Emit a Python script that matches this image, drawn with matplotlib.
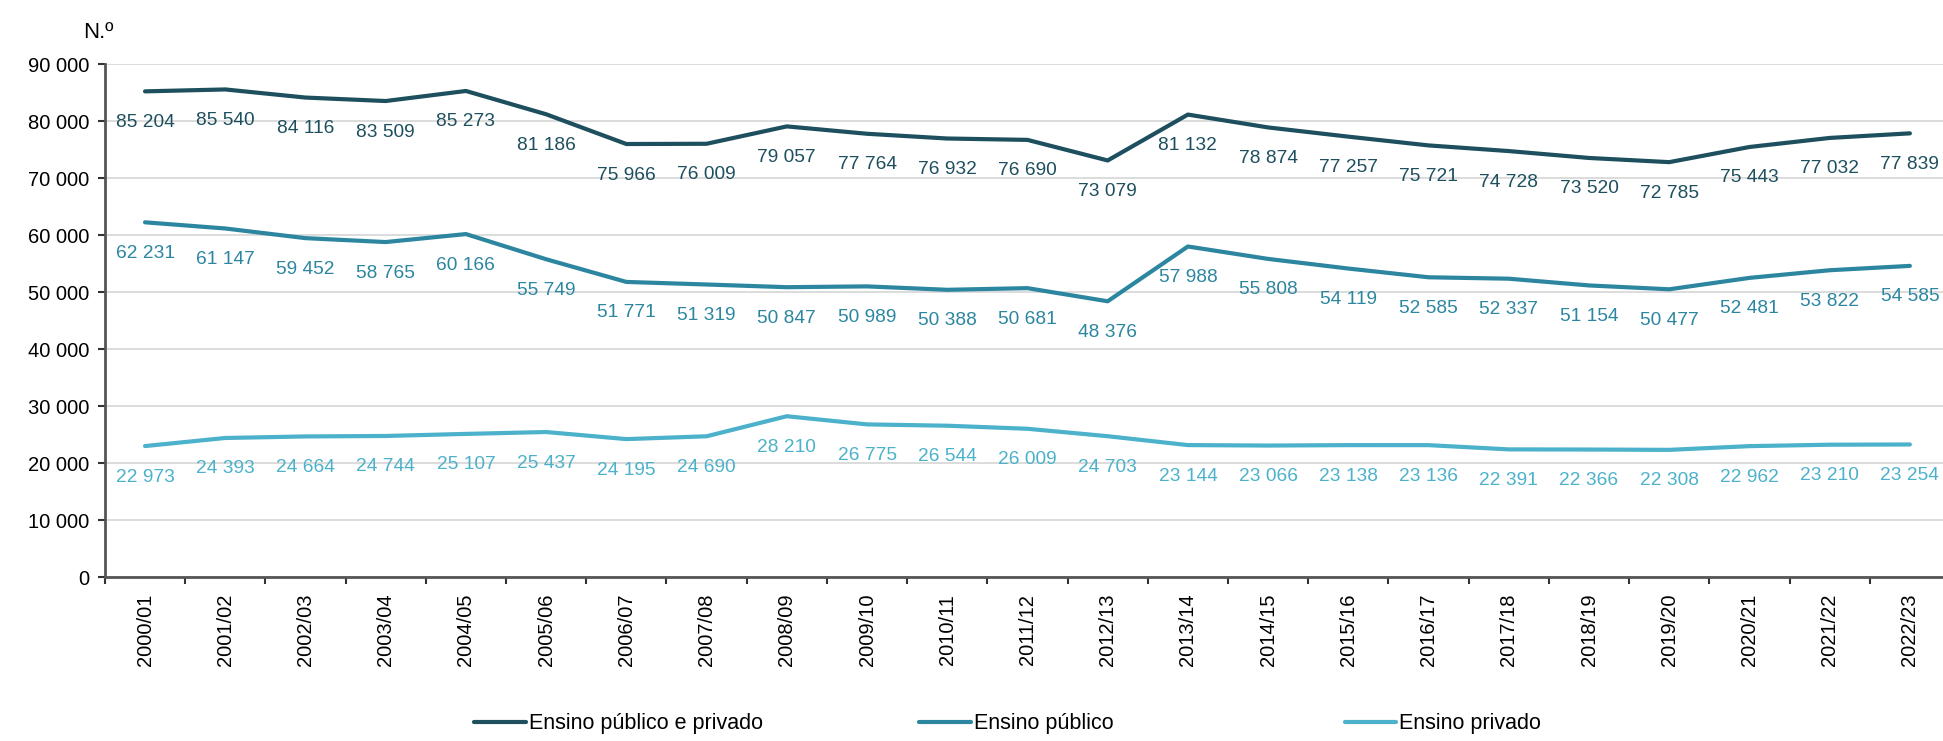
import matplotlib.pyplot as plt
from matplotlib.ticker import FuncFormatter, FixedLocator

plt.rcParams['font.family'] = ['Liberation Sans', 'DejaVu Sans']

# school years
years = ['2000/01', '2001/02', '2002/03', '2003/04', '2004/05', '2005/06', '2006/07',
         '2007/08', '2008/09', '2009/10', '2010/11', '2011/12', '2012/13', '2013/14',
         '2014/15', '2015/16', '2016/17', '2017/18', '2018/19', '2019/20', '2020/21',
         '2021/22', '2022/23']

total = [85204, 85540, 84116, 83509, 85273, 81186, 75966, 76009, 79057, 77764, 76932,
         76690, 73079, 81132, 78874, 77257, 75721, 74728, 73520, 72785, 75443, 77032, 77839]
publico = [62231, 61147, 59452, 58765, 60166, 55749, 51771, 51319, 50847, 50989, 50388,
           50681, 48376, 57988, 55808, 54119, 52585, 52337, 51154, 50477, 52481, 53822, 54585]
privado = [22973, 24393, 24664, 24744, 25107, 25437, 24195, 24690, 28210, 26775, 26544,
           26009, 24703, 23144, 23066, 23138, 23136, 22391, 22366, 22308, 22962, 23210, 23254]

series = [('Ensino público e privado', total, '#1d4f5e'),
          ('Ensino público', publico, '#2c86a0'),
          ('Ensino privado', privado, '#4cb1ca')]


def fmt(v):
    return f'{int(v):,}'.replace(',', ' ')


fig = plt.figure(figsize=(19.43, 7.41), dpi=100)
ax = fig.add_axes([0.054, 0.2213, 0.9496, 0.6923])

x = list(range(len(years)))
lines = []
for name, vals, col in series:
    ln, = ax.plot(x, vals, color=col, lw=3, label=name, solid_capstyle='round')
    lines.append(ln)
    for xi, v in zip(x, vals):
        ax.annotate(fmt(v), (xi, v), xytext=(0, -31), textcoords='offset pixels',
                    ha='center', va='center', fontsize=13.8, color=col)

ax.set_xlim(-0.5, len(years) - 0.5)
ax.set_ylim(0, 90000)
ax.set_yticks(range(0, 90001, 10000))
ax.yaxis.set_major_formatter(FuncFormatter(lambda v, p: fmt(v)))
ax.tick_params(axis='y', labelsize=14.5, length=5, width=1.5, color='#333333', pad=6)

ax.set_xticks(x)
ax.set_xticklabels(years, rotation=90, fontsize=14.5)
ax.xaxis.set_minor_locator(FixedLocator([i - 0.5 for i in range(len(years) + 1)]))
ax.tick_params(axis='x', which='major', length=0, pad=12)
ax.tick_params(axis='x', which='minor', length=5, width=1.5, color='#333333')

ax.grid(axis='y', color='#d9d9d9', lw=1.3)
ax.set_axisbelow(True)
for s in ['top', 'right']:
    ax.spines[s].set_visible(False)
for s in ['left', 'bottom']:
    ax.spines[s].set_color('#555555')
    ax.spines[s].set_linewidth(2)

fig.text(0.043, 0.97, 'N.º', fontsize=16, va='top')

# one legend per entry, placed like the original
for ln, xpos in zip(lines, [0.244, 0.473, 0.692]):
    fig.legend([ln], [ln.get_label()], loc='center left', bbox_to_anchor=(xpos, 0.023),
               frameon=False, fontsize=15.5, handlelength=2.4, handletextpad=0.15,
               borderpad=0, borderaxespad=0)

fig.savefig('out.png', dpi=100)
